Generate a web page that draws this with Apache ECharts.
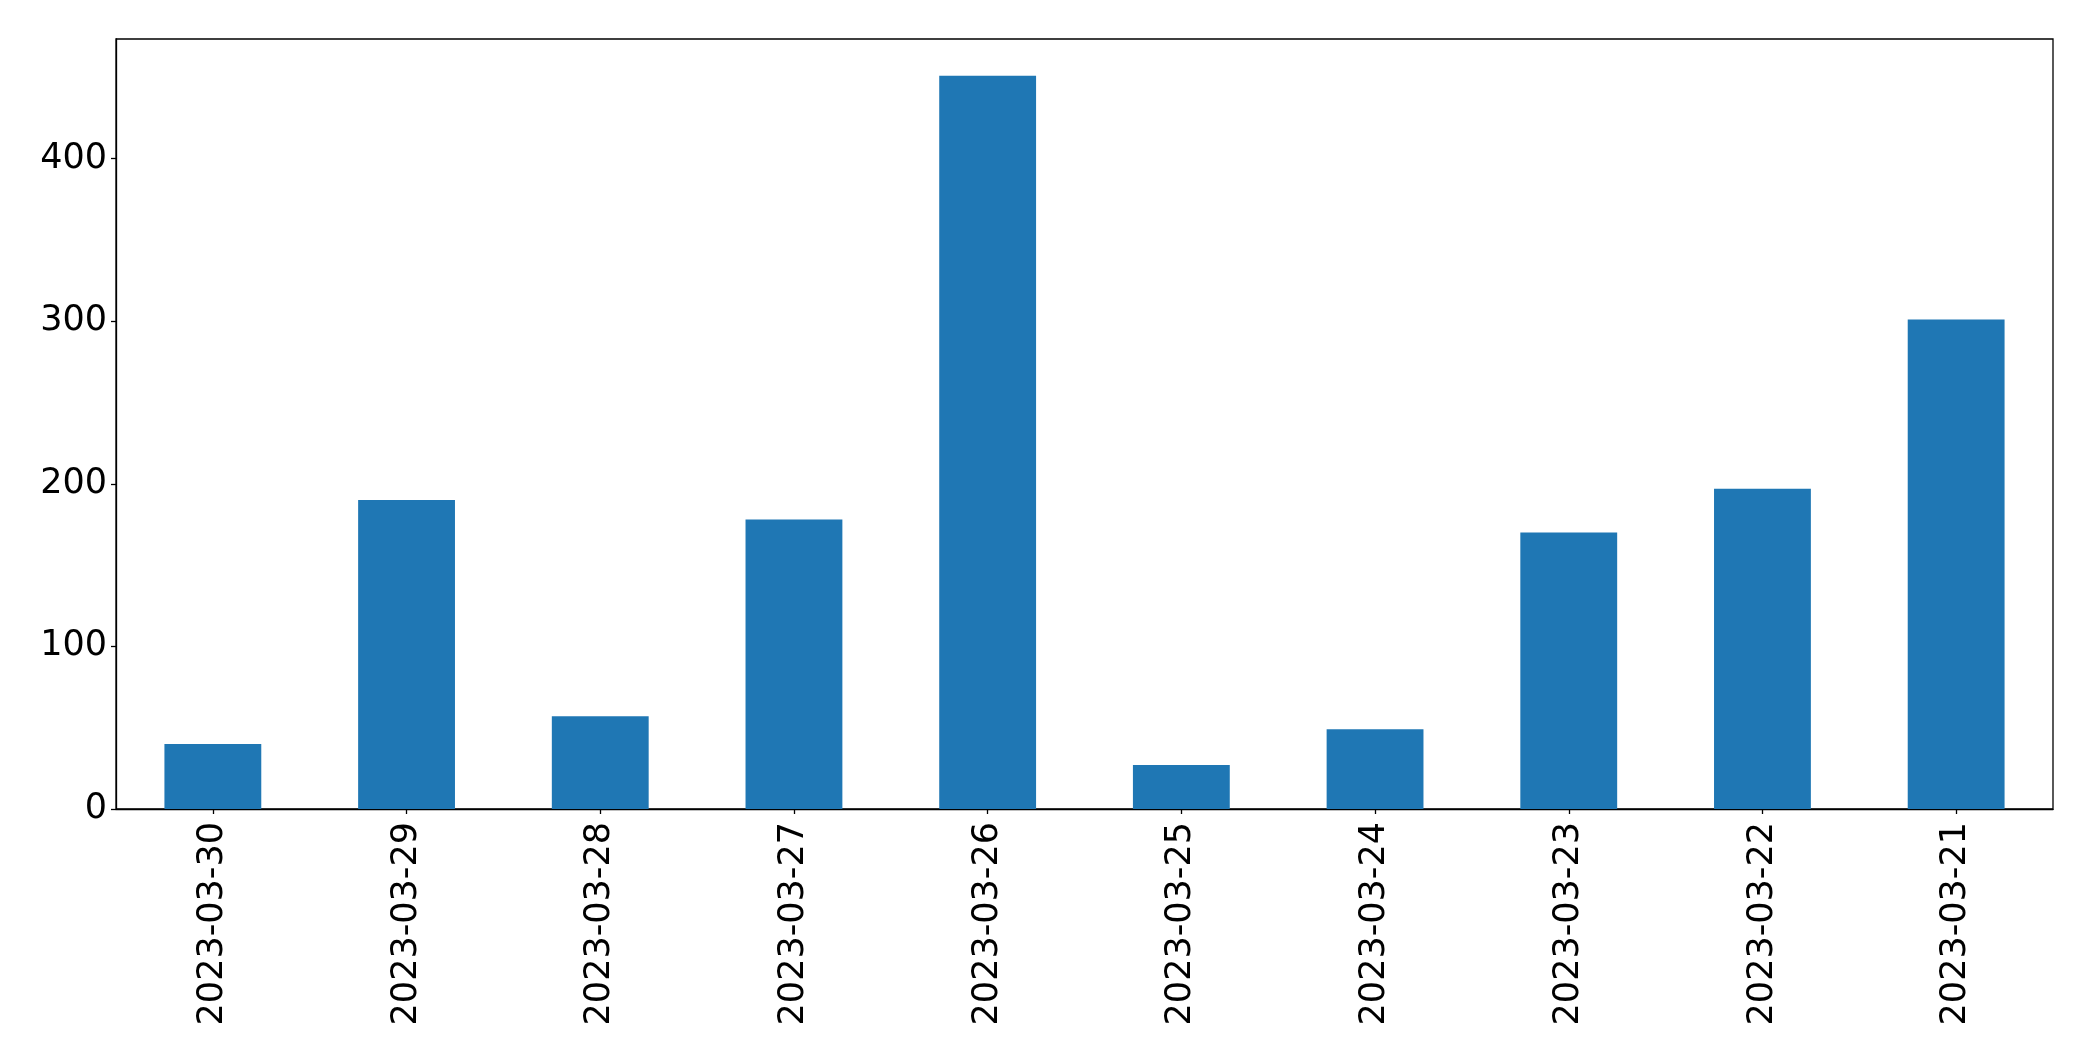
<!DOCTYPE html>
<html>
<head>
<meta charset="utf-8">
<script src="https://cdn.jsdelivr.net/npm/echarts@6/dist/echarts.min.js"></script>
<style>
  html, body { margin: 0; padding: 0; background: #fff; }
  #chart { width: 2093px; height: 1061px; }
</style>
</head>
<body>
<div id="chart"></div>
<script>
// dates as shown on the x axis (newest first)
let dates = ['2023-03-30', '2023-03-29', '2023-03-28', '2023-03-27', '2023-03-26',
             '2023-03-25', '2023-03-24', '2023-03-23', '2023-03-22', '2023-03-21'];
// bar heights
let counts = [40, 190, 57, 178, 451, 27, 49, 170, 197, 301];
let yTicks = [0, 100, 200, 300, 400];

let font = 'DejaVu Sans';
let myChart = echarts.init(document.getElementById('chart'));

let option = {
    animation: false,
    grid: {
        left: 116,
        right: 40,
        top: 39,
        bottom: 252,
        show: true,
        borderColor: '#000',
        borderWidth: 1.3,
        containLabel: false
    },
    xAxis: {
        type: 'category',
        data: dates,
        axisLine: { lineStyle: { color: '#000', width: 1.3 } },
        axisTick: { show: true, alignWithLabel: true, length: 5, lineStyle: { color: '#000', width: 1.3 } },
        axisLabel: {
            rotate: 90,
            interval: 0,
            margin: 13,
            color: '#000',
            fontFamily: font,
            fontSize: 35
        }
    },
    yAxis: {
        type: 'value',
        min: 0,
        max: 473.55,
        interval: 100,
        splitLine: { show: false },
        axisLine: { show: true, lineStyle: { color: '#000', width: 1.3 } },
        axisTick: { show: true, length: 5, lineStyle: { color: '#000', width: 1.3 } },
        axisLabel: {
            margin: 9,
            color: '#000',
            fontFamily: font,
            fontSize: 35,
            showMaxLabel: false,
            formatter: function (v) { return yTicks.indexOf(v) >= 0 ? String(v) : ''; }
        }
    },
    series: [
        {
            type: 'bar',
            barWidth: '50%',
            itemStyle: { color: '#1f77b4' },
            data: counts
        }
    ]
};
myChart.setOption(option);
</script>
</body>
</html>
